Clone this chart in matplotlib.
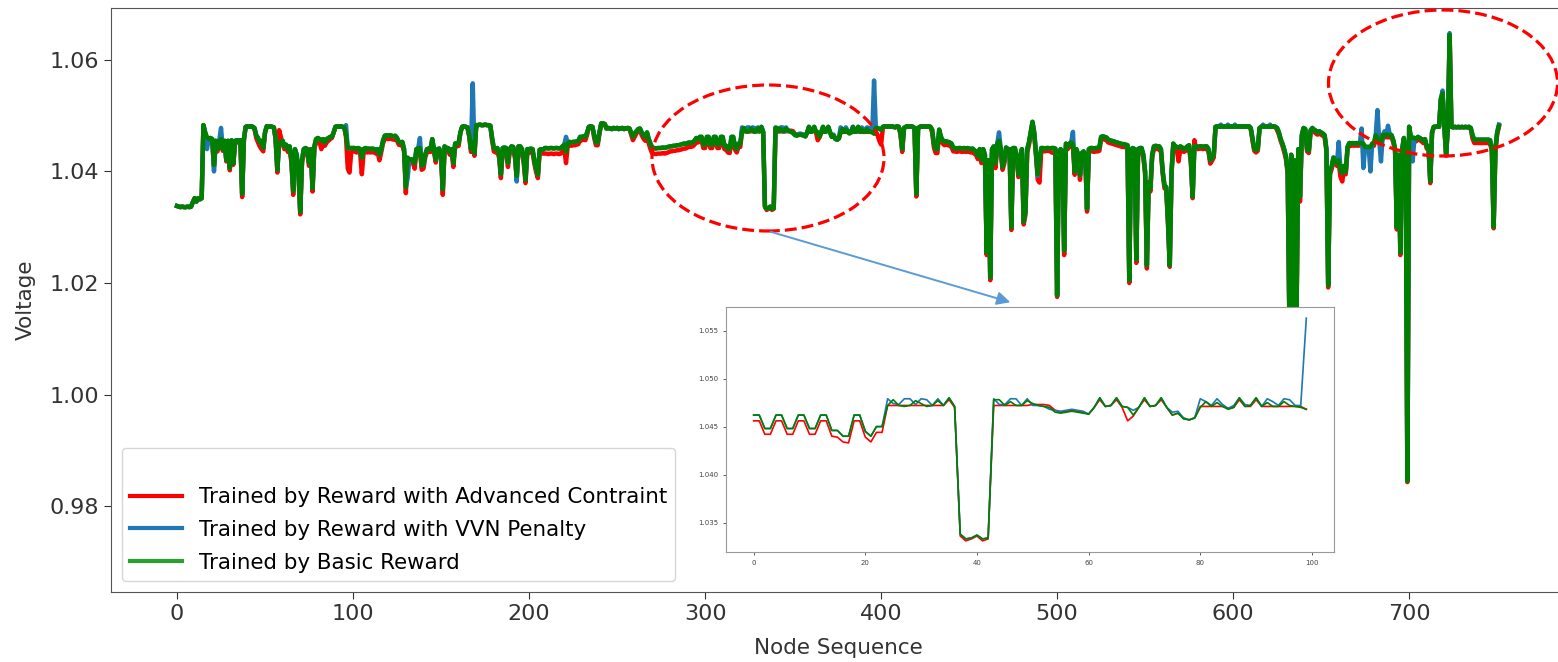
import matplotlib
matplotlib.use("Agg")
import matplotlib.pyplot as plt
from matplotlib.patches import Ellipse, FancyArrowPatch
from matplotlib.lines import Line2D
from matplotlib.ticker import FormatStrFormatter
import numpy as np

labels = ["Trained by Reward with Advanced Contraint",
          "Trained by Reward with VVN Penalty",
          "Trained by Basic Reward"]

# voltage per node, basic reward (green)
basic = [
    1.0338, 1.0337, 1.0336, 1.0337, 1.0336, 1.0336, 1.0337, 1.0336, 1.0337, 1.0345,
    1.0352, 1.0346, 1.0352, 1.0350, 1.0352, 1.0483, 1.0470, 1.0462, 1.0458, 1.0460,
    1.0458, 1.0412, 1.0455, 1.0440, 1.0455, 1.0458, 1.0440, 1.0455, 1.0421, 1.0455,
    1.0406, 1.0456, 1.0415, 1.0455, 1.0456, 1.0455, 1.0456, 1.0360, 1.0458, 1.0480,
    1.0481, 1.0480, 1.0481, 1.0480, 1.0478, 1.0465, 1.0460, 1.0452, 1.0455, 1.0442,
    1.0470, 1.0481, 1.0480, 1.0481, 1.0480, 1.0479, 1.0460, 1.0403, 1.0450, 1.0452,
    1.0455, 1.0445, 1.0448, 1.0440, 1.0445, 1.0420, 1.0365, 1.0440, 1.0430, 1.0400,
    1.0328, 1.0420, 1.0440, 1.0442, 1.0440, 1.0415, 1.0440, 1.0370, 1.0445, 1.0458,
    1.0460, 1.0458, 1.0455, 1.0458, 1.0452, 1.0458, 1.0460, 1.0462, 1.0462, 1.0470,
    1.0480, 1.0481, 1.0480, 1.0481, 1.0480, 1.0479, 1.0465, 1.0442, 1.0442, 1.0442,
    # 100
    1.0442, 1.0442, 1.0440, 1.0442, 1.0440, 1.0425, 1.0440, 1.0442, 1.0440, 1.0441,
    1.0440, 1.0441, 1.0440, 1.0438, 1.0440, 1.0430, 1.0440, 1.0455, 1.0464, 1.0465,
    1.0464, 1.0465, 1.0464, 1.0463, 1.0464, 1.0460, 1.0453, 1.0452, 1.0453, 1.0440,
    1.0372, 1.0425, 1.0421, 1.0422, 1.0421, 1.0415, 1.0440, 1.0441, 1.0442, 1.0410,
    1.0412, 1.0430, 1.0440, 1.0441, 1.0440, 1.0458, 1.0440, 1.0421, 1.0440, 1.0441,
    1.0430, 1.0368, 1.0445, 1.0442, 1.0442, 1.0435, 1.0440, 1.0415, 1.0450, 1.0450,
    1.0451, 1.0470, 1.0480, 1.0481, 1.0480, 1.0479, 1.0465, 1.0440, 1.0452, 1.0433,
    1.0483, 1.0483, 1.0484, 1.0483, 1.0483, 1.0484, 1.0483, 1.0483, 1.0482, 1.0460,
    1.0442, 1.0440, 1.0442, 1.0430, 1.0395, 1.0442, 1.0443, 1.0442, 1.0415, 1.0440,
    1.0445, 1.0444, 1.0430, 1.0392, 1.0445, 1.0445, 1.0440, 1.0420, 1.0385, 1.0440,
    # 200
    1.0440, 1.0441, 1.0440, 1.0420, 1.0405, 1.0394, 1.0439, 1.0440, 1.0439, 1.0442,
    1.0442, 1.0441, 1.0442, 1.0442, 1.0441, 1.0442, 1.0442, 1.0441, 1.0442, 1.0445,
    1.0448, 1.0435, 1.0450, 1.0453, 1.0452, 1.0453, 1.0453, 1.0454, 1.0455, 1.0462,
    1.0462, 1.0463, 1.0462, 1.0470, 1.0480, 1.0481, 1.0480, 1.0465, 1.0452, 1.0452,
    1.0470, 1.0486, 1.0486, 1.0485, 1.0477, 1.0478, 1.0477, 1.0476, 1.0478, 1.0477,
    1.0478, 1.0476, 1.0477, 1.0478, 1.0476, 1.0477, 1.0478, 1.0477, 1.0470, 1.0462,
    1.0468, 1.0472, 1.0476, 1.0477, 1.0470, 1.0465, 1.0462, 1.0470, 1.0458, 1.0450,
    1.0442, 1.0442, 1.0441, 1.0442, 1.0442, 1.0442, 1.0443, 1.0442, 1.0443, 1.0444,
    1.0445, 1.0445, 1.0446, 1.0446, 1.0447, 1.0447, 1.0448, 1.0449, 1.0450, 1.0449,
    1.0451, 1.0452, 1.0451, 1.0452, 1.0455, 1.0460, 1.0458,
    # 297 (zoomed window starts)
    1.0462, 1.0462, 1.0448, 1.0448, 1.0462, 1.0462, 1.0448, 1.0448, 1.0462, 1.0462,
    1.0448, 1.0448, 1.0462, 1.0462, 1.0446, 1.0446, 1.0440, 1.0440, 1.0462, 1.0462,
    1.0445, 1.0440, 1.0450, 1.0450, 1.0472, 1.0478, 1.0472, 1.0471, 1.0472, 1.0477,
    1.0474, 1.0471, 1.0472, 1.0477, 1.0472, 1.0480, 1.0471, 1.0338, 1.0333, 1.0334,
    1.0337, 1.0333, 1.0334, 1.0478, 1.0478, 1.0472, 1.0476, 1.0472, 1.0472, 1.0477,
    1.0474, 1.0472, 1.0471, 1.0470, 1.0465, 1.0464, 1.0465, 1.0466, 1.0465, 1.0464,
    1.0463, 1.0470, 1.0480, 1.0471, 1.0472, 1.0480, 1.0471, 1.0470, 1.0462, 1.0470,
    1.0480, 1.0471, 1.0472, 1.0480, 1.0470, 1.0462, 1.0464, 1.0458, 1.0457, 1.0459,
    1.0470, 1.0476, 1.0471, 1.0475, 1.0471, 1.0468, 1.0470, 1.0480, 1.0471, 1.0472,
    1.0480, 1.0471, 1.0475, 1.0471, 1.0471, 1.0476, 1.0472, 1.0471, 1.0470, 1.0468,
    # 397
    1.0478, 1.0478, 1.0476,
    1.0475, 1.0480, 1.0481, 1.0480, 1.0481, 1.0480, 1.0481, 1.0480, 1.0479, 1.0481,
    1.0480, 1.0470, 1.0440, 1.0478, 1.0480, 1.0481, 1.0480, 1.0481, 1.0480, 1.0478,
    1.0360, 1.0478, 1.0480, 1.0481, 1.0480, 1.0481, 1.0480, 1.0481, 1.0480, 1.0475,
    1.0450, 1.0440, 1.0440, 1.0475, 1.0462, 1.0456, 1.0453, 1.0454, 1.0453, 1.0452,
    1.0450, 1.0442, 1.0442, 1.0441, 1.0442, 1.0442, 1.0441, 1.0442, 1.0441, 1.0442,
    1.0441, 1.0440, 1.0441, 1.0438, 1.0435, 1.0428, 1.0440, 1.0421, 1.0440, 1.0430,
    1.0255, 1.0420, 1.0210, 1.0440, 1.0445, 1.0415, 1.0450, 1.0455, 1.0440, 1.0408,
    1.0420, 1.0443, 1.0440, 1.0440, 1.0300, 1.0442, 1.0442, 1.0430, 1.0395, 1.0420,
    1.0440, 1.0310, 1.0328, 1.0440, 1.0452, 1.0470, 1.0489, 1.0470, 1.0433, 1.0395,
    1.0420, 1.0442, 1.0442, 1.0441, 1.0442, 1.0442, 1.0441, 1.0442, 1.0442, 1.0441,
    # 500
    1.0178, 1.0435, 1.0440, 1.0436, 1.0258, 1.0450, 1.0445, 1.0450, 1.0452, 1.0448,
    1.0400, 1.0440, 1.0430, 1.0393, 1.0433, 1.0436, 1.0430, 1.0333, 1.0440, 1.0442,
    1.0442, 1.0441, 1.0442, 1.0442, 1.0443, 1.0462, 1.0463, 1.0462, 1.0461, 1.0457,
    1.0456, 1.0455, 1.0454, 1.0453, 1.0452, 1.0451, 1.0450, 1.0449, 1.0449, 1.0448,
    1.0447, 1.0205, 1.0440, 1.0442, 1.0440, 1.0242, 1.0440, 1.0442, 1.0442, 1.0430,
    1.0400, 1.0232, 1.0380, 1.0370, 1.0430, 1.0445, 1.0446, 1.0445, 1.0445, 1.0440,
    1.0400, 1.0375, 1.0372, 1.0310, 1.0232, 1.0400, 1.0450, 1.0445, 1.0444, 1.0442,
    1.0445, 1.0443, 1.0440, 1.0442, 1.0445, 1.0447, 1.0420, 1.0355, 1.0445, 1.0445,
    1.0444, 1.0445, 1.0445, 1.0444, 1.0445, 1.0445, 1.0440, 1.0420, 1.0424, 1.0430,
    1.0480, 1.0481, 1.0480, 1.0481, 1.0480, 1.0481, 1.0480, 1.0481, 1.0480, 1.0481,
    # 600
    1.0480, 1.0481, 1.0480, 1.0481, 1.0480, 1.0481, 1.0480, 1.0481, 1.0480, 1.0481,
    1.0478, 1.0460, 1.0441, 1.0438, 1.0441, 1.0478, 1.0480, 1.0481, 1.0480, 1.0481,
    1.0480, 1.0481, 1.0480, 1.0481, 1.0480, 1.0478, 1.0470, 1.0458, 1.0450, 1.0440,
    1.0427, 1.0400, 1.0120, 1.0430, 1.0100, 1.0420, 1.0135, 1.0440, 1.0355, 1.0465,
    1.0478, 1.0476, 1.0440, 1.0437, 1.0474, 1.0478, 1.0475, 1.0473, 1.0470, 1.0472,
    1.0470, 1.0468, 1.0465, 1.0440, 1.0196, 1.0400, 1.0409, 1.0425, 1.0420, 1.0415,
    1.0420, 1.0403, 1.0397, 1.0410, 1.0400, 1.0444, 1.0451, 1.0450, 1.0451, 1.0450,
    1.0451, 1.0450, 1.0451, 1.0451, 1.0450, 1.0444, 1.0444, 1.0444, 1.0444, 1.0450,
    1.0450, 1.0465, 1.0460, 1.0455, 1.0450, 1.0465, 1.0465, 1.0466, 1.0465, 1.0466,
    1.0465, 1.0456, 1.0440, 1.0300, 1.0430, 1.0254, 1.0440, 1.0460, 1.0440, 0.9845,
    # 700
    1.0480, 1.0461, 1.0461, 1.0460, 1.0458, 1.0462, 1.0460, 1.0458, 1.0455, 1.0458,
    1.0445, 1.0445, 1.0383, 1.0470, 1.0480, 1.0480, 1.0481, 1.0480, 1.0530, 1.0540,
    1.0480, 1.0430, 1.0480, 1.0645, 1.0480, 1.0479, 1.0480, 1.0479, 1.0480, 1.0479,
    1.0480, 1.0479, 1.0480, 1.0479, 1.0480, 1.0478, 1.0465, 1.0457, 1.0457, 1.0457,
    1.0457, 1.0457, 1.0457, 1.0457, 1.0457, 1.0457, 1.0456, 1.0440, 1.0301, 1.0440,
    1.0470, 1.0482,
]

# voltage per node, advanced constraint (red)
advanced = [
    1.0338, 1.0337, 1.0336, 1.0337, 1.0336, 1.0336, 1.0337, 1.0336, 1.0337, 1.0345,
    1.0352, 1.0346, 1.0352, 1.0350, 1.0352, 1.0483, 1.0468, 1.0458, 1.0455, 1.0456,
    1.0455, 1.0408, 1.0452, 1.0436, 1.0452, 1.0455, 1.0437, 1.0452, 1.0418, 1.0452,
    1.0402, 1.0452, 1.0412, 1.0452, 1.0452, 1.0452, 1.0452, 1.0354, 1.0456, 1.0480,
    1.0481, 1.0480, 1.0481, 1.0480, 1.0476, 1.0460, 1.0452, 1.0445, 1.0440, 1.0436,
    1.0470, 1.0481, 1.0480, 1.0481, 1.0480, 1.0479, 1.0457, 1.0398, 1.0474, 1.0462,
    1.0449, 1.0440, 1.0443, 1.0435, 1.0440, 1.0415, 1.0358, 1.0434, 1.0425, 1.0395,
    1.0323, 1.0415, 1.0434, 1.0436, 1.0434, 1.0410, 1.0434, 1.0364, 1.0440, 1.0452,
    1.0455, 1.0452, 1.0440, 1.0452, 1.0446, 1.0452, 1.0455, 1.0458, 1.0460, 1.0470,
    1.0480, 1.0481, 1.0480, 1.0481, 1.0480, 1.0479, 1.0462, 1.0405, 1.0398, 1.0436,
    # 100
    1.0436, 1.0436, 1.0434, 1.0436, 1.0434, 1.0395, 1.0434, 1.0436, 1.0434, 1.0435,
    1.0434, 1.0435, 1.0434, 1.0432, 1.0434, 1.0420, 1.0434, 1.0450, 1.0458, 1.0459,
    1.0458, 1.0459, 1.0458, 1.0457, 1.0458, 1.0455, 1.0448, 1.0447, 1.0448, 1.0435,
    1.0361, 1.0420, 1.0416, 1.0417, 1.0416, 1.0405, 1.0435, 1.0436, 1.0437, 1.0403,
    1.0405, 1.0425, 1.0435, 1.0436, 1.0435, 1.0453, 1.0435, 1.0416, 1.0435, 1.0436,
    1.0425, 1.0358, 1.0440, 1.0437, 1.0437, 1.0430, 1.0435, 1.0408, 1.0445, 1.0445,
    1.0446, 1.0470, 1.0480, 1.0481, 1.0480, 1.0479, 1.0462, 1.0435, 1.0448, 1.0428,
    1.0483, 1.0483, 1.0484, 1.0483, 1.0483, 1.0484, 1.0483, 1.0483, 1.0482, 1.0455,
    1.0436, 1.0434, 1.0436, 1.0424, 1.0388, 1.0436, 1.0437, 1.0436, 1.0408, 1.0434,
    1.0439, 1.0438, 1.0424, 1.0388, 1.0439, 1.0439, 1.0434, 1.0414, 1.0379, 1.0434,
    # 200
    1.0434, 1.0435, 1.0434, 1.0414, 1.0399, 1.0388, 1.0433, 1.0433, 1.0432, 1.0432,
    1.0432, 1.0431, 1.0432, 1.0432, 1.0431, 1.0432, 1.0432, 1.0431, 1.0432, 1.0436,
    1.0440, 1.0415, 1.0447, 1.0447, 1.0446, 1.0447, 1.0447, 1.0448, 1.0449, 1.0456,
    1.0456, 1.0457, 1.0456, 1.0466, 1.0480, 1.0481, 1.0480, 1.0460, 1.0447, 1.0447,
    1.0468, 1.0486, 1.0486, 1.0485, 1.0477, 1.0478, 1.0477, 1.0476, 1.0478, 1.0477,
    1.0478, 1.0476, 1.0477, 1.0478, 1.0476, 1.0477, 1.0478, 1.0477, 1.0466, 1.0456,
    1.0462, 1.0468, 1.0474, 1.0475, 1.0465, 1.0459, 1.0455, 1.0464, 1.0450, 1.0440,
    1.0432, 1.0432, 1.0431, 1.0432, 1.0432, 1.0432, 1.0433, 1.0432, 1.0433, 1.0434,
    1.0436, 1.0436, 1.0437, 1.0437, 1.0438, 1.0438, 1.0439, 1.0440, 1.0441, 1.0441,
    1.0443, 1.0444, 1.0444, 1.0445, 1.0448, 1.0453, 1.0452,
    # 297
    1.0456, 1.0456, 1.0442, 1.0442, 1.0456, 1.0456, 1.0442, 1.0442, 1.0456, 1.0456,
    1.0442, 1.0442, 1.0456, 1.0456, 1.0440, 1.0439, 1.0434, 1.0433, 1.0456, 1.0456,
    1.0439, 1.0434, 1.0444, 1.0444, 1.0472, 1.0472, 1.0472, 1.0472, 1.0472, 1.0472,
    1.0472, 1.0472, 1.0472, 1.0472, 1.0472, 1.0478, 1.0470, 1.0336, 1.0331, 1.0333,
    1.0336, 1.0331, 1.0333, 1.0472, 1.0472, 1.0472, 1.0472, 1.0472, 1.0472, 1.0472,
    1.0473, 1.0473, 1.0473, 1.0472, 1.0467, 1.0465, 1.0466, 1.0467, 1.0466, 1.0465,
    1.0463, 1.0470, 1.0478, 1.0471, 1.0472, 1.0478, 1.0470, 1.0456, 1.0461, 1.0470,
    1.0478, 1.0471, 1.0472, 1.0478, 1.0470, 1.0462, 1.0464, 1.0459, 1.0457, 1.0459,
    1.0471, 1.0471, 1.0471, 1.0471, 1.0471, 1.0469, 1.0470, 1.0478, 1.0471, 1.0471,
    1.0478, 1.0471, 1.0471, 1.0471, 1.0471, 1.0471, 1.0471, 1.0471, 1.0471, 1.0468,
    # 397
    1.0470, 1.0465, 1.0455,
    1.0448, 1.0478, 1.0481, 1.0480, 1.0481, 1.0480, 1.0481, 1.0480, 1.0479, 1.0481,
    1.0480, 1.0466, 1.0435, 1.0476, 1.0480, 1.0481, 1.0480, 1.0481, 1.0480, 1.0476,
    1.0355, 1.0476, 1.0480, 1.0481, 1.0480, 1.0481, 1.0480, 1.0481, 1.0480, 1.0470,
    1.0443, 1.0433, 1.0433, 1.0470, 1.0456, 1.0450, 1.0447, 1.0448, 1.0447, 1.0446,
    1.0444, 1.0436, 1.0436, 1.0435, 1.0436, 1.0436, 1.0435, 1.0436, 1.0435, 1.0436,
    1.0435, 1.0434, 1.0435, 1.0432, 1.0429, 1.0422, 1.0434, 1.0415, 1.0434, 1.0424,
    1.0250, 1.0414, 1.0205, 1.0434, 1.0440, 1.0406, 1.0444, 1.0450, 1.0434, 1.0403,
    1.0414, 1.0437, 1.0434, 1.0434, 1.0295, 1.0437, 1.0437, 1.0424, 1.0390, 1.0414,
    1.0434, 1.0305, 1.0322, 1.0434, 1.0447, 1.0466, 1.0486, 1.0465, 1.0428, 1.0385,
    1.0380, 1.0437, 1.0437, 1.0436, 1.0437, 1.0437, 1.0436, 1.0434, 1.0433, 1.0433,
    # 500
    1.0175, 1.0430, 1.0434, 1.0431, 1.0250, 1.0445, 1.0440, 1.0445, 1.0447, 1.0443,
    1.0394, 1.0435, 1.0425, 1.0385, 1.0428, 1.0431, 1.0425, 1.0328, 1.0435, 1.0436,
    1.0436, 1.0435, 1.0436, 1.0436, 1.0437, 1.0458, 1.0458, 1.0457, 1.0456, 1.0452,
    1.0451, 1.0450, 1.0449, 1.0448, 1.0447, 1.0446, 1.0445, 1.0444, 1.0444, 1.0443,
    1.0442, 1.0200, 1.0435, 1.0437, 1.0435, 1.0236, 1.0435, 1.0437, 1.0437, 1.0425,
    1.0395, 1.0226, 1.0375, 1.0364, 1.0425, 1.0440, 1.0441, 1.0440, 1.0440, 1.0435,
    1.0395, 1.0370, 1.0367, 1.0305, 1.0229, 1.0395, 1.0445, 1.0440, 1.0439, 1.0418,
    1.0440, 1.0438, 1.0435, 1.0437, 1.0440, 1.0442, 1.0415, 1.0352, 1.0456, 1.0441,
    1.0440, 1.0441, 1.0441, 1.0440, 1.0441, 1.0441, 1.0435, 1.0414, 1.0419, 1.0425,
    1.0480, 1.0481, 1.0480, 1.0481, 1.0480, 1.0481, 1.0480, 1.0481, 1.0480, 1.0481,
    # 600
    1.0480, 1.0481, 1.0480, 1.0481, 1.0480, 1.0481, 1.0480, 1.0481, 1.0480, 1.0481,
    1.0476, 1.0455, 1.0437, 1.0434, 1.0437, 1.0476, 1.0480, 1.0481, 1.0480, 1.0481,
    1.0480, 1.0481, 1.0480, 1.0481, 1.0480, 1.0474, 1.0466, 1.0455, 1.0446, 1.0435,
    1.0422, 1.0395, 1.0115, 1.0425, 1.0095, 1.0415, 1.0130, 1.0435, 1.0346, 1.0460,
    1.0476, 1.0472, 1.0436, 1.0433, 1.0470, 1.0474, 1.0471, 1.0468, 1.0466, 1.0468,
    1.0466, 1.0464, 1.0461, 1.0436, 1.0192, 1.0395, 1.0404, 1.0420, 1.0415, 1.0410,
    1.0415, 1.0390, 1.0382, 1.0405, 1.0395, 1.0440, 1.0447, 1.0446, 1.0447, 1.0446,
    1.0447, 1.0446, 1.0447, 1.0447, 1.0446, 1.0440, 1.0440, 1.0440, 1.0440, 1.0446,
    1.0446, 1.0461, 1.0456, 1.0451, 1.0446, 1.0461, 1.0461, 1.0462, 1.0461, 1.0462,
    1.0461, 1.0452, 1.0436, 1.0296, 1.0426, 1.0250, 1.0436, 1.0456, 1.0436, 0.9843,
    # 700
    1.0480, 1.0457, 1.0457, 1.0456, 1.0454, 1.0458, 1.0456, 1.0454, 1.0451, 1.0454,
    1.0441, 1.0441, 1.0379, 1.0468, 1.0480, 1.0480, 1.0481, 1.0480, 1.0528, 1.0538,
    1.0480, 1.0428, 1.0480, 1.0643, 1.0480, 1.0479, 1.0480, 1.0479, 1.0480, 1.0479,
    1.0480, 1.0479, 1.0480, 1.0479, 1.0480, 1.0476, 1.0459, 1.0451, 1.0451, 1.0451,
    1.0451, 1.0451, 1.0451, 1.0451, 1.0451, 1.0451, 1.0450, 1.0436, 1.0298, 1.0436,
    1.0466, 1.0480,
]

# VVN penalty (blue) follows the basic run except at these nodes
vvn_nodes = {
    17: 1.0440, 21: 1.0400, 25: 1.0478, 96: 1.0483, 131: 1.0388, 138: 1.0460,
    168: 1.0558, 193: 1.0382, 221: 1.0462,
    321: 1.0479, 322: 1.0474, 323: 1.0473, 324: 1.0479, 325: 1.0479, 326: 1.0473,
    327: 1.0479, 328: 1.0478, 329: 1.0472, 330: 1.0479, 331: 1.0472, 332: 1.0480,
    340: 1.0479, 341: 1.0473, 342: 1.0473, 343: 1.0479, 344: 1.0479, 345: 1.0472,
    346: 1.0479, 347: 1.0472,
    350: 1.0468, 351: 1.0467, 352: 1.0466, 353: 1.0467, 354: 1.0468, 355: 1.0467,
    356: 1.0466, 357: 1.0463,
    363: 1.0471, 364: 1.0470, 365: 1.0467, 372: 1.0465, 373: 1.0466, 374: 1.0459,
    377: 1.0479, 378: 1.0476, 379: 1.0472, 380: 1.0479, 381: 1.0473, 382: 1.0469,
    383: 1.0472, 384: 1.0480, 385: 1.0473, 386: 1.0472, 387: 1.0480, 388: 1.0471,
    389: 1.0479, 390: 1.0476, 391: 1.0472, 392: 1.0479, 393: 1.0478, 394: 1.0472,
    395: 1.0472, 396: 1.0563,
    467: 1.0470, 489: 1.0392, 509: 1.0471, 593: 1.0484, 597: 1.0484, 601: 1.0484,
    617: 1.0484, 621: 1.0484, 636: 1.0150, 660: 1.0453, 673: 1.0477, 674: 1.0406,
    678: 1.0400, 682: 1.0510, 684: 1.0418, 686: 1.0472, 688: 1.0482,
    702: 1.0418, 719: 1.0545, 723: 1.0648, 751: 1.0484,
}

zoom_start = 297
zoom_len = 100

assert len(basic) == len(advanced) == 752

vvn = list(basic)
for k, v in vvn_nodes.items():
    vvn[k] = v

basic = np.array(basic)
advanced = np.array(advanced)
vvn = np.array(vvn)
nodes = np.arange(len(basic))

colors = ["red", "#1f77b4", "green"]
series = [advanced, vvn, basic]

fig = plt.figure(figsize=(15.58, 6.62), dpi=100)
ax = fig.add_axes([0.0712, 0.1057, 0.9333, 0.8822])
for s, c in zip(series, colors):
    ax.plot(nodes, s, color=c, lw=3.2)
ax.set_ylim(0.9646, 1.0693)
ax.set_yticks([0.98, 1.00, 1.02, 1.04, 1.06])
ax.yaxis.set_major_formatter(FormatStrFormatter("%.2f"))
ax.set_xticks(range(0, 701, 100))
ax.tick_params(labelsize=16, colors="#333333", length=5)
for sp in ax.spines.values():
    sp.set_color("#555555")
ax.set_xlabel("Node Sequence", fontsize=15.5, color="#333333", labelpad=10)
ax.set_ylabel("Voltage", fontsize=15.5, color="#333333", labelpad=10)

handles = [Line2D([], [], color=c, lw=3) for c in ["red", "#1f77b4", "#2ca02c"]]
ax.legend(handles, labels, loc="lower left", fontsize=15.4, handlelength=2.4,
          labelspacing=0.6, title=" ", title_fontsize=12)

# zoomed window
ins = fig.add_axes([0.466, 0.1662, 0.3902, 0.3701])
zx = np.arange(zoom_len)
for s, c in zip(series, colors):
    ins.plot(zx, s[zoom_start:zoom_start + zoom_len], color=c, lw=1.2)
ins.set_xticks(range(0, 101, 20))
ins.set_yticks([1.035, 1.040, 1.045, 1.050, 1.055])
ins.yaxis.set_major_formatter(FormatStrFormatter("%.3f"))
ins.tick_params(labelsize=5, length=2, width=0.6, colors="#444444")
for sp in ins.spines.values():
    sp.set_color("#999999")

W, H = 1558, 662
fig.add_artist(Ellipse((768 / W, 1 - 158 / H), 232 / W, 146 / H, transform=fig.transFigure,
                       fill=False, edgecolor="red", lw=2.3, ls="--"))
fig.add_artist(Ellipse((1443 / W, 1 - 83 / H), 229 / W, 146 / H, transform=fig.transFigure,
                       fill=False, edgecolor="red", lw=2.3, ls="--"))
fig.add_artist(FancyArrowPatch((768 / W, 1 - 231 / H), (1013 / W, 1 - 303 / H),
                               transform=fig.transFigure, arrowstyle="-|>",
                               mutation_scale=20, color="#5b9bd5", lw=1.4))

fig.savefig("out.png", dpi=100)
